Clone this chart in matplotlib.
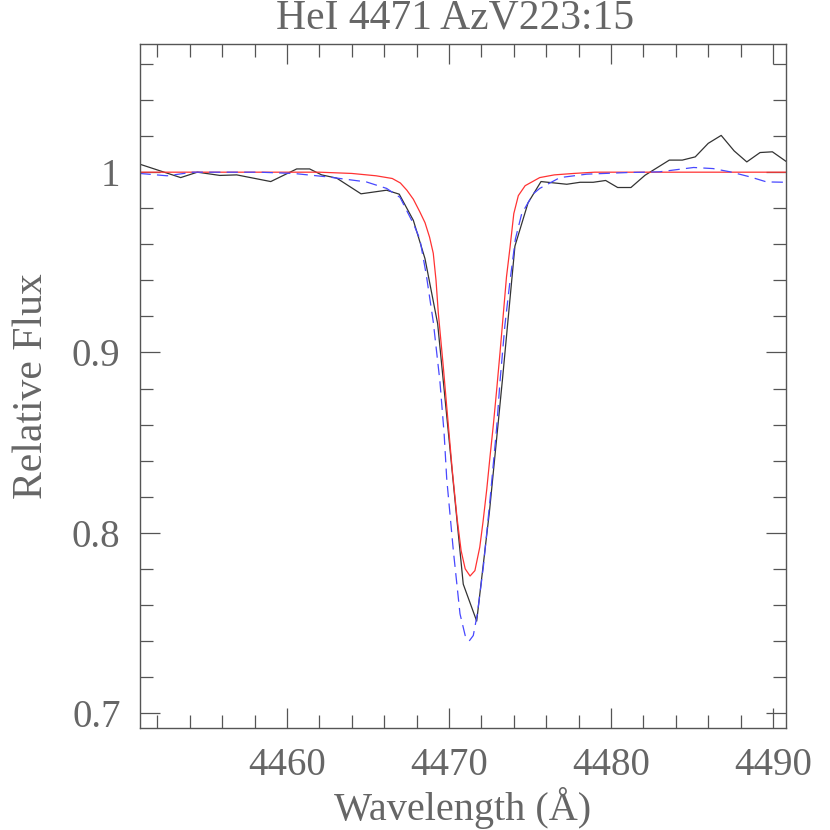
import numpy as np
import matplotlib
matplotlib.use('Agg')
import matplotlib.pyplot as plt
from matplotlib.ticker import MultipleLocator, FormatStrFormatter

# observed spectrum (black)
wl_obs = [4450.93, 4453.44, 4454.47, 4455.86, 4456.90, 4459.00, 4460.60, 4461.40,
          4462.14, 4463.07, 4464.57, 4466.15, 4466.93, 4467.80, 4468.52, 4469.30,
          4470.10, 4470.88, 4471.71, 4472.50, 4473.30, 4474.07, 4474.88, 4475.68,
          4477.27, 4478.09, 4478.90, 4479.67, 4480.41, 4481.23, 4482.10, 4483.60,
          4484.40, 4485.20, 4486.00, 4486.80, 4487.60, 4488.38, 4489.20, 4489.96,
          4490.85]
flux_obs = [1.0044, 0.9970, 1.0000, 0.9982, 0.9985, 0.9948, 1.0018, 1.0018,
            0.9985, 0.9967, 0.9880, 0.9900, 0.9878, 0.9733, 0.9520, 0.9160,
            0.8430, 0.7715, 0.7510, 0.8120, 0.8850, 0.9590, 0.9830, 0.9948,
            0.9933, 0.9944, 0.9944, 0.9954, 0.9915, 0.9915, 0.9983, 1.0067,
            1.0067, 1.0085, 1.0160, 1.0204, 1.0118, 1.0057, 1.0109, 1.0113,
            1.0057]

# model 1 (red, solid)
wl_red = [4450.9, 4462.0, 4464.0, 4465.5, 4466.5, 4467.0, 4467.4, 4467.8, 4468.2,
          4468.52, 4468.8, 4469.03, 4469.2, 4469.34, 4469.65, 4469.86, 4470.2,
          4470.5, 4470.75, 4471.0, 4471.3, 4471.6, 4471.9, 4472.1, 4472.33,
          4472.53, 4472.74, 4472.94, 4473.15, 4473.35, 4473.55, 4473.77, 4474.0,
          4474.28, 4474.7, 4475.2, 4475.6, 4476.5, 4477.7, 4479.0, 4490.85]
flux_red = [1.0, 1.0, 0.9993, 0.998, 0.9965, 0.994, 0.990, 0.985, 0.978,
            0.972, 0.964, 0.955, 0.940, 0.922, 0.892, 0.870, 0.835,
            0.808, 0.790, 0.780, 0.776, 0.779, 0.792, 0.806, 0.824,
            0.842, 0.860, 0.879, 0.900, 0.921, 0.942, 0.9585, 0.977,
            0.987, 0.9925, 0.995, 0.997, 0.9985, 0.9993, 1.0, 1.0]

# model 2 (blue, dashed)
wl_blue = [4450.9, 4452.6, 4454.2, 4458.3, 4460.4, 4462.5, 4464.9, 4466.15,
           4466.98, 4467.6, 4467.8, 4468.2, 4468.6, 4469.03, 4469.44, 4469.7,
           4469.86, 4470.27, 4470.68, 4471.0, 4471.25, 4471.5, 4471.75, 4472.12,
           4472.53, 4472.94, 4473.15, 4473.45, 4473.77, 4474.1, 4474.49, 4475.2,
           4475.6, 4476.85, 4478.5, 4481.0, 4483.0, 4485.1, 4486.3, 4487.35,
           4488.58, 4489.6, 4490.85]
flux_blue = [0.9993, 0.998, 1.0, 1.0, 0.9993, 0.9974, 0.9946, 0.991,
             0.986, 0.975, 0.9715, 0.963, 0.943, 0.917, 0.884, 0.855,
             0.830, 0.790, 0.755, 0.743, 0.740, 0.743, 0.755, 0.781,
             0.818, 0.858, 0.884, 0.915, 0.940, 0.963, 0.977, 0.988,
             0.991, 0.997, 0.9989, 0.9998, 1.0002, 1.0026, 1.002, 1.0002,
             0.9974, 0.9946, 0.9944]

title = 'HeI 4471 AzV223:15'
txt = '#666666'

plt.rcParams['font.family'] = ['Liberation Serif', 'DejaVu Serif']

fig = plt.figure(figsize=(8.3, 8.3), dpi=100)
ax = fig.add_axes([140/830, 102/830, 646/830, 684/830])

ax.plot(wl_obs, flux_obs, color='#333333', lw=0.9)
ax.plot(wl_red, flux_red, color='#ff3333', lw=0.9)
ax.plot(wl_blue, flux_blue, color='#4848ff', lw=0.9, linestyle=(0, (9, 5)))

ax.set_xlim(4450.93, 4490.8)
ax.set_ylim(0.6917, 1.0711)

ax.xaxis.set_major_locator(MultipleLocator(10))
ax.xaxis.set_minor_locator(MultipleLocator(2))
ax.yaxis.set_major_locator(MultipleLocator(0.1))
ax.yaxis.set_minor_locator(MultipleLocator(0.02))
ax.yaxis.set_major_formatter(FormatStrFormatter('%g'))

ax.tick_params(which='both', direction='in', top=True, right=True,
               color='#555555', width=0.9, labelcolor=txt, labelsize=28)
ax.tick_params(which='major', length=14.5)
ax.tick_params(which='minor', length=9.5)
ax.tick_params(axis='x', which='major', pad=14)
ax.tick_params(axis='y', which='major', pad=14)

for s in ax.spines.values():
    s.set_color('#555555')
    s.set_linewidth(1.0)

fig.text(463/830, 1 - 808/830, 'Wavelength (Å)', fontsize=29, color=txt,
         ha='center', va='center')
fig.text(32/830, 1 - 386/830, 'Relative Flux', fontsize=30, color=txt,
         ha='center', va='center', rotation=90)
fig.text(455/830, 1 - 18/830, title, fontsize=30, color=txt,
         ha='center', va='center')

fig.savefig('out.png', dpi=100)
